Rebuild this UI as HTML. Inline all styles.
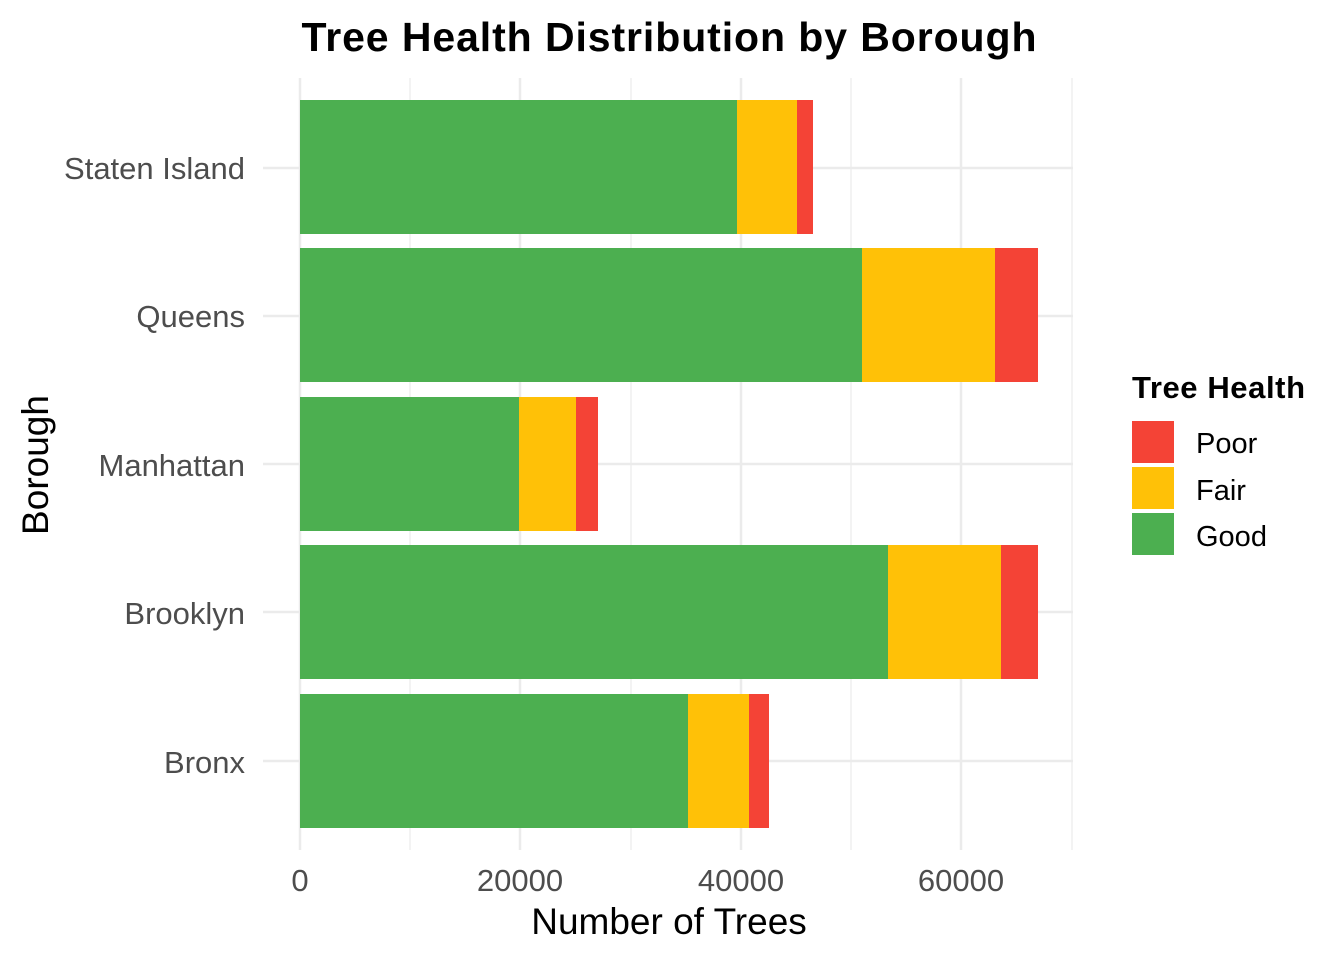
<!DOCTYPE html>
<html><head><meta charset="utf-8"><style>body{margin:0;background:#fff}</style></head><body>
<svg width="1344" height="960" xmlns="http://www.w3.org/2000/svg" font-family="Liberation Sans, Arial, sans-serif">
<rect width="1344" height="960" fill="#fff"/>
<g stroke="#ebebeb" stroke-width="1.2">
<line x1="410" y1="78" x2="410" y2="850"/><line x1="631" y1="78" x2="631" y2="850"/><line x1="851" y1="78" x2="851" y2="850"/><line x1="1072" y1="78" x2="1072" y2="850"/>
</g>
<g stroke="#ebebeb" stroke-width="2.5">
<line x1="300" y1="78" x2="300" y2="850"/><line x1="520" y1="78" x2="520" y2="850"/><line x1="741" y1="78" x2="741" y2="850"/><line x1="961" y1="78" x2="961" y2="850"/>
<line x1="263" y1="168" x2="1073" y2="168"/><line x1="263" y1="316" x2="1073" y2="316"/><line x1="263" y1="464" x2="1073" y2="464"/><line x1="263" y1="612" x2="1073" y2="612"/><line x1="263" y1="761" x2="1073" y2="761"/>
</g>
<g>
<rect x="300" y="100" width="437" height="134" fill="#4CAF50"/><rect x="737" y="100" width="60" height="134" fill="#FFC107"/><rect x="797" y="100" width="16" height="134" fill="#F44336"/>
<rect x="300" y="248" width="562" height="134" fill="#4CAF50"/><rect x="862" y="248" width="133" height="134" fill="#FFC107"/><rect x="995" y="248" width="43" height="134" fill="#F44336"/>
<rect x="300" y="397" width="219" height="134" fill="#4CAF50"/><rect x="519" y="397" width="57" height="134" fill="#FFC107"/><rect x="576" y="397" width="22" height="134" fill="#F44336"/>
<rect x="300" y="545" width="588" height="134" fill="#4CAF50"/><rect x="888" y="545" width="113" height="134" fill="#FFC107"/><rect x="1001" y="545" width="37" height="134" fill="#F44336"/>
<rect x="300" y="694" width="388" height="134" fill="#4CAF50"/><rect x="688" y="694" width="61" height="134" fill="#FFC107"/><rect x="749" y="694" width="20" height="134" fill="#F44336"/>
</g>
<g font-size="31" fill="#4d4d4d" text-anchor="end">
<text x="245" y="179">Staten Island</text><text x="245" y="327">Queens</text><text x="245" y="476">Manhattan</text><text x="245" y="624">Brooklyn</text><text x="245" y="773">Bronx</text>
</g>
<g font-size="31" fill="#4d4d4d" text-anchor="middle">
<text x="300" y="891">0</text><text x="520" y="891">20000</text><text x="741" y="891">40000</text><text x="961" y="891">60000</text>
</g>
<text x="669" y="934" font-size="37" text-anchor="middle" fill="#000">Number of Trees</text>
<text transform="translate(48,465) rotate(-90)" font-size="37" text-anchor="middle" fill="#000">Borough</text>
<text x="669" y="51" font-size="41" font-weight="bold" text-anchor="middle" textLength="735" fill="#000">Tree Health Distribution by Borough</text>
<text x="1132" y="398" font-size="31" font-weight="bold" fill="#000" textLength="173">Tree Health</text>
<rect x="1132" y="421" width="42" height="42" fill="#F44336"/>
<rect x="1132" y="467" width="42" height="42" fill="#FFC107"/>
<rect x="1132" y="513" width="42" height="42" fill="#4CAF50"/>
<g font-size="29" fill="#000"><text x="1196" y="453">Poor</text><text x="1196" y="500">Fair</text><text x="1196" y="546">Good</text></g>
</svg>
</body></html>
